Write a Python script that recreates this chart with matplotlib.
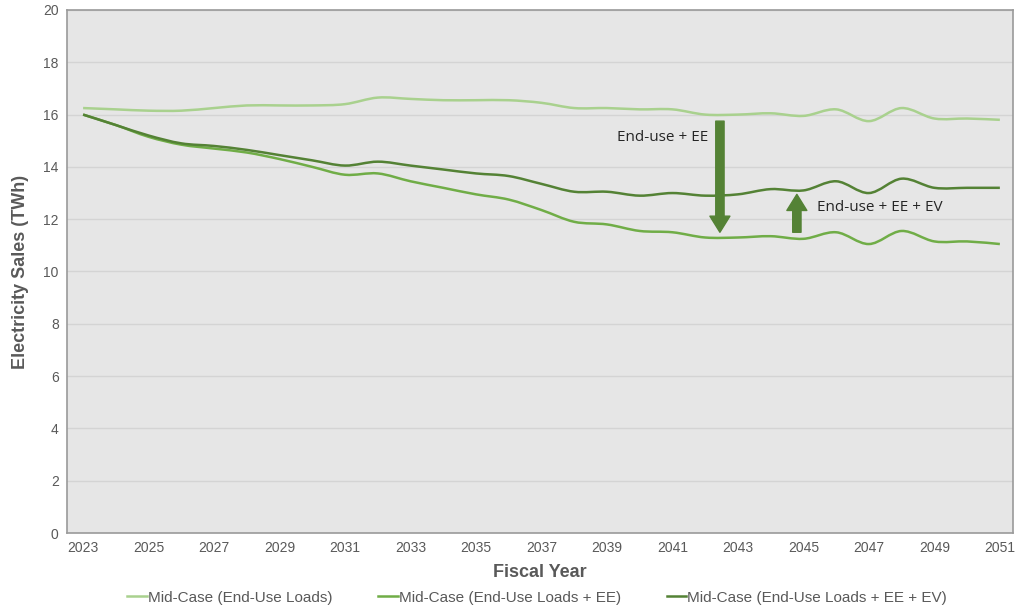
import numpy as np
import matplotlib
matplotlib.use("Agg")
import matplotlib.pyplot as plt
from matplotlib.path import Path
from matplotlib.patches import PathPatch
from matplotlib.lines import Line2D

years = np.arange(2023, 2052)

end_use = [16.25, 16.2, 16.15, 16.15, 16.25, 16.35, 16.35, 16.35, 16.4, 16.65,
           16.6, 16.55, 16.55, 16.55, 16.45, 16.25, 16.25, 16.2, 16.2, 16.0,
           16.0, 16.05, 15.95, 16.2, 15.75, 16.25, 15.85, 15.85, 15.8]
end_use_ee = [16.0, 15.6, 15.15, 14.85, 14.7, 14.55, 14.3, 14.0, 13.7, 13.75,
              13.45, 13.2, 12.95, 12.75, 12.35, 11.9, 11.8, 11.55, 11.5, 11.3,
              11.3, 11.35, 11.25, 11.5, 11.05, 11.55, 11.15, 11.15, 11.05]
end_use_ee_ev = [16.0, 15.6, 15.2, 14.9, 14.8, 14.65, 14.45, 14.25, 14.05, 14.2,
                 14.05, 13.9, 13.75, 13.65, 13.35, 13.05, 13.05, 12.9, 13.0, 12.9,
                 12.95, 13.15, 13.1, 13.45, 13.0, 13.55, 13.2, 13.2, 13.2]

labels = ["Mid-Case (End-Use Loads)",
          "Mid-Case (End-Use Loads + EE)",
          "Mid-Case (End-Use Loads + EE + EV)"]
colors = ["#a9d18e", "#70ad47", "#548235"]


def smooth_path(x, y):
    """
    Excel-like smoothed line as a bezier path through the data points
    """
    x = np.asarray(x, float)
    y = np.asarray(y, float)
    verts = [(x[0], y[0])]
    codes = [Path.MOVETO]
    n = len(x)
    for i in range(n - 1):
        p0 = i - 1 if i > 0 else i
        p3 = i + 2 if i + 2 < n else i + 1
        c1 = (x[i] + (x[i + 1] - x[p0]) / 6, y[i] + (y[i + 1] - y[p0]) / 6)
        c2 = (x[i + 1] - (x[p3] - x[i]) / 6, y[i + 1] - (y[p3] - y[i]) / 6)
        verts += [c1, c2, (x[i + 1], y[i + 1])]
        codes += [Path.CURVE4] * 3
    return Path(verts, codes)


fig = plt.figure(figsize=(10.16, 6.13), dpi=100)
ax = fig.add_axes([0.066, 0.1305, 0.931, 0.8532])
ax.set_facecolor("#e6e6e6")

for series, c in zip([end_use, end_use_ee, end_use_ee_ev], colors):
    ax.add_patch(PathPatch(smooth_path(years, series), facecolor="none",
                           edgecolor=c, lw=1.8, zorder=3))

ax.set_xlim(2022.51, 2051.4)
ax.set_ylim(0, 20)
ax.set_xticks(np.arange(2023, 2052, 2))
ax.set_yticks(np.arange(0, 21, 2))
ax.grid(axis="y", color="#d4d4d4", lw=1)
ax.set_axisbelow(True)
ax.tick_params(length=0, labelsize=10, colors="#595959", pad=6)
for lab in ax.get_xticklabels() + ax.get_yticklabels():
    lab.set_family("Liberation Sans")
for s in ax.spines.values():
    s.set_color("#9a9a9a")
    s.set_linewidth(1.2)

ax.set_xlabel("Fiscal Year", fontsize=13, fontweight="bold", color="#595959",
              family="Liberation Sans", labelpad=6)
ax.set_ylabel("Electricity Sales (TWh)", fontsize=13, fontweight="bold",
              color="#595959", family="Liberation Sans", labelpad=10)

arrow_col = "#548235"
style = "simple,head_width=0.72,head_length=0.58,tail_width=0.3"
ax.annotate("", xy=(2042.45, 11.5), xytext=(2042.45, 15.75),
            arrowprops=dict(arrowstyle=style, color=arrow_col,
                            mutation_scale=20, shrinkA=0, shrinkB=0), zorder=4)
ax.annotate("", xy=(2044.8, 12.95), xytext=(2044.8, 11.5),
            arrowprops=dict(arrowstyle=style, color=arrow_col,
                            mutation_scale=20, shrinkA=0, shrinkB=0), zorder=4)
ax.text(2042.1, 15.14, "End-use + EE", ha="right", va="center", fontsize=11,
        family="Open Sans", color="#262626")
ax.text(2045.4, 12.43, "End-use + EE + EV", ha="left", va="center",
        fontsize=11, family="Open Sans", color="#262626")

handles = [Line2D([], [], color=c, lw=1.8) for c in colors]
fig.legend(handles, labels, loc="center", bbox_to_anchor=(0.5285, 0.025),
           ncol=3, frameon=False,
           prop={"family": "Liberation Sans", "size": 11},
           handlelength=1.3, handletextpad=0.05, columnspacing=3.0,
           labelcolor="#595959")

fig.savefig("out.png", dpi=100)
